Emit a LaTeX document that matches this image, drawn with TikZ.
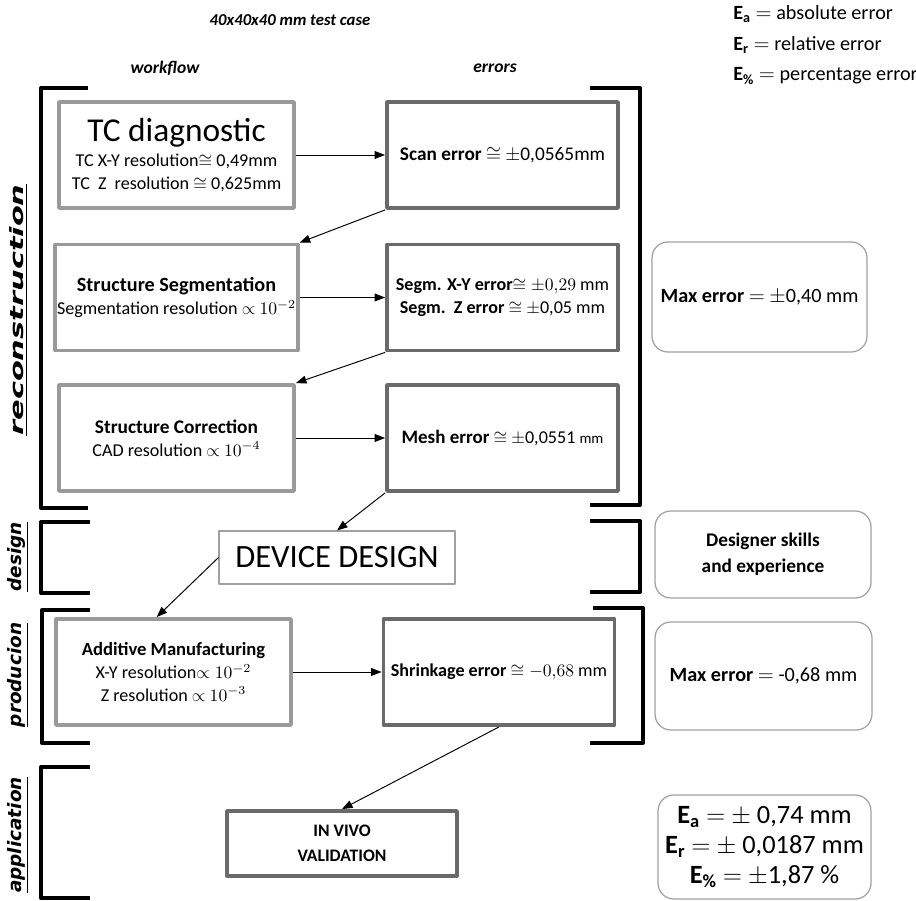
\documentclass[tikz,border=0pt]{standalone}
\usepackage{amsmath,amssymb}
\usepackage{fontspec}
\setmainfont{Carlito}
\newfontfamily\sidefont{DejaVu Sans}
\usetikzlibrary{arrows.meta}
\definecolor{flowgray}{HTML}{9A9A9A}
\definecolor{errgray}{HTML}{6A6A6A}
\definecolor{notegray}{HTML}{A0A0A0}
\tikzset{
  every picture/.style={line join=round, >=Stealth},
  flowbox/.style={draw=flowgray, line width=2.2pt, minimum width=4.7cm, minimum height=2.12cm, align=center, inner sep=1pt, font=\fontsize{10.3}{13}\selectfont},
  errbox/.style={flowbox, draw=errgray, minimum width=4.62cm},
  notebox/.style={draw=notegray, line width=0.7pt, rounded corners=9pt, minimum width=4.3cm, minimum height=2.2cm, align=center, font=\fontsize{11.5}{14}\selectfont},
  bracket/.style={line width=2.3pt},
  link/.style={-{Triangle[length=6pt,width=4.5pt]}, line width=0.55pt},
  sidelabel/.style={rotate=90, font=\sidefont\bfseries\itshape\fontsize{10.5}{12}\selectfont},
  headlabel/.style={font=\bfseries\itshape\fontsize{10}{12}\selectfont},
}

\begin{document}
\begin{tikzpicture}[x=0.02cm, y=-0.02cm]
\useasboundingbox (0,0) rectangle (916,901);
% headings and legend
\node[headlabel, font=\bfseries\itshape\fontsize{9.5}{11}\selectfont] (title) at (290,20) {40x40x40 mm test case};
\node[headlabel] (wf) at (165,68) {workflow};
\node[headlabel] (er) at (495,68) {errors};
\node[align=left, anchor=north west, inner sep=0pt, font=\fontsize{11.5}{17.5}\selectfont] (legend) at (733,5)
  {\textbf{E}\textsubscript{\textbf{a}} $=$ absolute error\\
   \textbf{E}\textsubscript{\textbf{r}} $=$ relative error\\
   \textbf{E}\textsubscript{\textbf{\%}} $=$ percentage error};

% phase labels
\node[sidelabel] (lrec) at (18,310) {\scalebox{1.65}[1]{\underline{reconstruction}}};
\node[sidelabel] (ldes) at (18,557) {\underline{design}};
\node[sidelabel] (lpro) at (18,675) {\underline{producion}};
\node[sidelabel] (lapp) at (18,835) {\underline{application}};

% brackets
\draw[bracket] (88,88) -- (41,88) -- (41,508) -- (88,508);
\draw[bracket] (590,88) -- (640,88) -- (640,505) -- (590,505);
\draw[bracket] (90,522) -- (41,522) -- (41,593) -- (90,593);
\draw[bracket] (590,521) -- (640,521) -- (640,592) -- (590,592);
\draw[bracket] (90,610) -- (42,610) -- (42,743) -- (90,743);
\draw[bracket] (593,608) -- (643,608) -- (643,743) -- (590,743);
\draw[bracket] (90,767) -- (41,767) -- (41,898) -- (90,898);

% reconstruction
\node[flowbox] (tc) at (176.5,155)
  {{\fontsize{19}{22}\selectfont TC diagnostic}\\[1pt]
   TC X-Y resolution$\cong$ 0,49mm\\
   TC\ \ Z\ \ resolution $\cong$ 0,625mm};
\node[errbox, font=\fontsize{11}{13}\selectfont] (scan) at (502.5,155) {\textbf{Scan error} $\cong$ $\pm$0,0565mm};
\node[flowbox] (seg) at (176.5,297.5)
  {{\fontsize{11.5}{14}\selectfont\textbf{Structure Segmentation}}\\ Segmentation resolution $\propto$\ $10^{-2}$};
\node[errbox] (segerr) at (502.5,297.5)
  {\textbf{Segm. X-Y error}$\cong\pm0{,}29\ \mathrm{mm}$\\ \textbf{Segm.\ \ Z error} $\cong$ $\pm$0,05 mm};
\node[notebox] (max1) at (759.5,297) {\textbf{Max error} $=$ $\pm$0,40 mm};
\node[flowbox] (corr) at (176.5,438)
  {{\fontsize{11}{14}\selectfont\textbf{Structure Correction}}\\ CAD resolution $\propto$\ $10^{-4}$};
\node[errbox] (mesh) at (502.5,438) {{\fontsize{10.8}{13}\selectfont\textbf{Mesh error}} $\cong$ $\pm$0,0551 {\fontsize{8.5}{10}\selectfont mm}};

% design
\node[draw=notegray, line width=0.6pt, minimum width=4.72cm, minimum height=1.06cm, font=\fontsize{18.5}{22}\selectfont] (dev) at (337,557.5) {DEVICE DESIGN};
\node[notebox, minimum width=4.32cm, minimum height=1.74cm, font=\bfseries\fontsize{11}{15}\selectfont] (skills) at (763,554.5) {Designer skills\\and experience};

% production
\node[flowbox] (am) at (173.5,672)
  {{\fontsize{10.6}{13}\selectfont\textbf{Additive Manufacturing}}\\ X-Y resolution$\propto 10^{-2}$\\ Z resolution $\propto$\ $10^{-3}$};
\node[errbox] (shr) at (499,672) {\textbf{Shrinkage error} $\cong -0{,}68\ \mathrm{mm}$};
\node[notebox, minimum width=4.34cm, minimum height=2.16cm] (max2) at (763.5,676) {\textbf{Max error} $=$ -0,68 mm};

% application
\node[errbox, minimum width=4.6cm, minimum height=1.3cm, font=\bfseries\fontsize{10}{14}\selectfont] (inv) at (342,843.5)
  {IN VIVO\\VALIDATION};
\node[notebox, minimum width=4.26cm, minimum height=2.08cm, font=\fontsize{15}{17}\selectfont] (eall) at (764.5,847)
  {\textbf{E}\textsubscript{\textbf{a}} $=$ $\pm$ 0,74 mm\\
   \textbf{E}\textsubscript{\textbf{r}} $=$ $\pm$ 0,0187 mm\\
   \textbf{E}\textsubscript{\textbf{\%}} $=$ $\pm$1,87 \%};

% connectors
\draw[link] (tc.east) -- (scan.west);
\draw[link] (scan.south west) -- (seg.north east);
\draw[link] (seg.east) -- (segerr.west);
\draw[link] (segerr.south west) -- (corr.north east);
\draw[link] (corr.east) -- (mesh.west);
\draw[link] (mesh.south west) -- (dev.north);
\draw[link] (dev.west) -- (am.107);
\draw[link] (am.east) -- (shr.west);
\draw[link] (shr.south) -- (inv.north);
\end{tikzpicture}
\end{document}
